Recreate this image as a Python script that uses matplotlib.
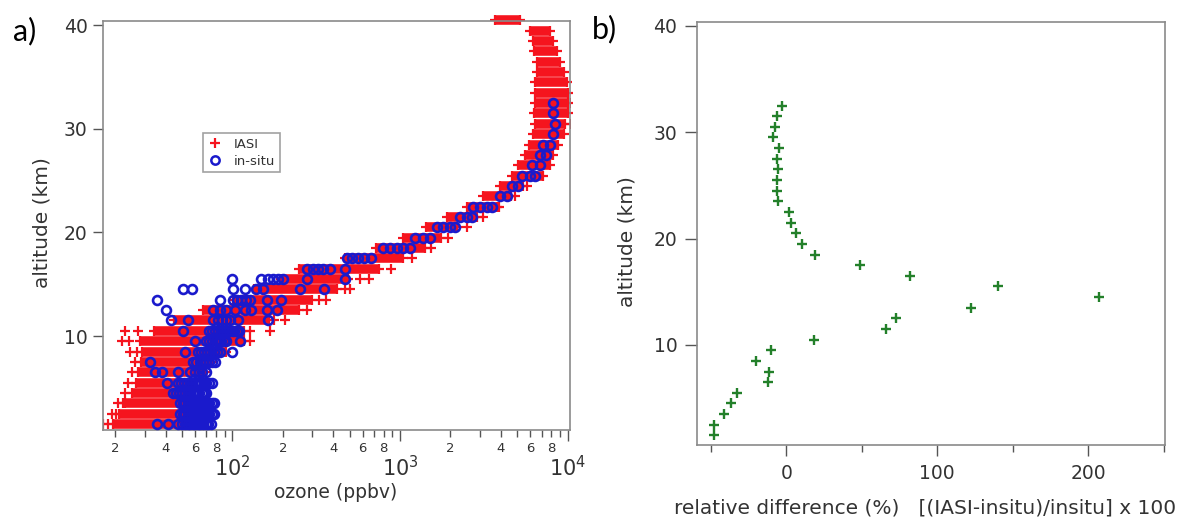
import numpy as np
import matplotlib
matplotlib.use("Agg")
import matplotlib.pyplot as plt
from matplotlib.ticker import FixedLocator, FuncFormatter
from matplotlib.lines import Line2D

# ---- IASI ozone retrievals (ppbv): dense band of profiles per level ----
iasi_km = [1.5, 2.5, 3.5, 4.5, 5.5, 6.5, 7.5, 8.5, 9.5, 10.5,
           11.5, 12.5, 13.5, 14.5, 15.5, 16.5, 17.5, 18.5, 19.5, 20.5,
           21.5, 22.5, 23.5, 24.5, 25.5, 26.5, 27.5, 28.5, 29.5, 30.5,
           31.5, 32.5, 33.5, 34.5, 35.5, 36.5, 37.5, 38.5, 39.5, 40.5]
iasi_lo = [19.5, 21, 23, 25, 26.5, 27.5, 28.5, 29, 28, 34,
           45, 67, 101, 135, 195, 250, 470, 720, 1050, 1440,
           1900, 2500, 3140, 3950, 4640, 5080, 5570, 5920, 6200, 6400,
           6340, 6400, 6400, 6400, 6550, 6550, 6340, 6200, 5970, 3680]
iasi_hi = [55, 55, 55, 55, 58, 70, 77, 92, 118, 118,
           165, 250, 300, 420, 490, 750, 1040, 1420, 1770, 2180,
           2870, 3780, 4600, 5450, 7160, 7870, 8220, 8810, 9530, 9600,
           10100, 10100, 10100, 9890, 9530, 9020, 8610, 8220, 7870, 5210]

# isolated IASI profiles outside the main band
iasi_out_km = [1.5, 1.5, 2.5, 2.5, 3.5, 3.5, 4.5, 5.5, 6.5, 7.5,
               8.5, 8.5, 9.5, 9.5, 9.5, 10.5, 10.5, 10.5, 10.5, 11.5,
               11.5, 12.5, 13.5, 13.5, 14.5, 14.5, 15.5, 15.5, 16.5, 17.5,
               18.5, 19.5, 20.5, 21.5, 22.5, 23.5, 24.5, 30.5, 32.5]
iasi_out_ppbv = [16.8, 18.2, 19.0, 20.3, 20.8, 22.2, 22.8, 23.9, 25.0, 26.2,
                 24.4, 26.8, 21.8, 24.0, 127, 22.8, 27.4, 127, 167, 178,
                 206, 280, 330, 360, 470, 500, 575, 655, 880, 1175,
                 1530, 1945, 2500, 3140, 3900, 4880, 5700, 10500, 10500]

# ---- in-situ ozonesonde (ppbv) ----
insitu_km = [1.5, 2.5, 3.5, 4.5, 5.5, 6.5, 7.5, 8.5, 9.5, 10.5,
             11.5, 12.5, 13.5, 14.5, 15.5, 16.5, 17.5, 18.5, 19.5, 20.5,
             21.5, 22.5, 23.5, 24.5, 25.5, 26.5, 27.5, 28.5, 29.5, 30.5,
             31.5, 32.5]
insitu_ppbv = [
    [35.3, 41.4, 47.5, 50, 52, 54, 56, 58, 60, 62, 64.5, 67, 69.5, 72, 74.5],
    [48.5, 50.5, 52.5, 54.5, 56.5, 58.5, 60.5, 63, 65.5, 68, 70.5, 73, 75.5, 78],
    [48.5, 50.5, 52.5, 54.5, 56.5, 58.5, 60.5, 63, 65.5, 68, 70.5, 73, 75.5, 78],
    [44.3, 46, 48, 50, 52, 54, 56, 58, 60.5, 63, 65.5, 68, 70],
    [40.5, 47.5, 49.5, 51.5, 53.5, 55.5, 57.5, 60, 62.5, 65, 67.5, 70, 73, 76],
    [34.4, 37.8, 47.5, 55.7, 60, 63, 66, 70],
    [32.1, 58.4, 61, 64, 67, 70, 73, 76, 78.8],
    [52, 62.5, 65, 68, 71, 74, 78, 81, 84, 100],
    [59.7, 70, 73, 76, 80, 83, 86, 89, 92, 111],
    [50.5, 73, 76, 79, 82, 85, 88, 92, 95, 99, 102, 106, 110],
    [42.8, 54.5, 77, 82, 87, 92, 97, 108, 164],
    [39.9, 76.8, 84, 92, 103, 119, 130, 160, 184],
    [35.6, 84, 101, 107, 113, 120, 127, 160, 195],
    [50.8, 57.8, 101, 119, 139, 153, 253, 352],
    [100, 148, 164, 175, 188, 201, 277, 470],
    [277, 304, 325, 348, 382, 470],
    [481, 520, 560, 610, 670],
    [795, 870, 955, 1045, 1150],
    [1230, 1380, 1510],
    [1655, 1815, 1990, 2130],
    [2280, 2500, 2680],
    [2740, 3000, 3300, 3530],
    [3950, 4340],
    [4640, 5080],
    [5330, 5970, 6400],
    [6100, 6840],
    [6840, 7480],
    [7160, 7870],
    [8220],
    [8400],
    [8220],
    [8220],
]

# ---- relative difference (%) [(IASI-insitu)/insitu] x 100 ----
rel_km = insitu_km
rel_diff = [-47.7, -47.7, -41.5, -36.4, -32.7, -12.1, -11.6, -19.8, -10.3, 18.3,
            66.3, 72.4, 122.6, 206.8, 140.5, 81.7, 49.0, 19.1, 10.3, 6.5,
            2.8, 1.8, -5.3, -6.5, -6.0, -5.5, -6.0, -4.8, -9.0, -7.8,
            -6.0, -3.0]

RED = "#f5141e"
BLUE = "#1a1acc"
GREEN = "#23802a"
SPINE = "#8a8a8a"
TXT = "#333333"

plt.rcParams["font.family"] = "DejaVu Sans"

fig = plt.figure(figsize=(11.95, 5.19), dpi=100)
ax1 = fig.add_axes([0.0862, 0.1715, 0.3908, 0.7886])
ax2 = fig.add_axes([0.5831, 0.1426, 0.3915, 0.8156])

# panel a) ozone profiles
ax1.hlines(iasi_km, iasi_lo, iasi_hi, colors=RED, lw=6.9, capstyle="butt", zorder=2,
           clip_on=False)
ax1.plot(iasi_lo + iasi_hi, iasi_km + iasi_km, "+", color=RED, ms=7.4, mew=1.6, zorder=2,
         clip_on=False)
ax1.plot(iasi_out_ppbv, iasi_out_km, "+", color=RED, ms=7.4, mew=1.6, zorder=2)
for km, vals in zip(insitu_km, insitu_ppbv):
    ax1.plot(vals, [km] * len(vals), "o", mfc="none", mec=BLUE, ms=6.4, mew=1.9, zorder=3)

ax1.set_xscale("log")
ax1.set_xlim(16.9, 10350)
ax1.set_ylim(0.92, 40.46)
ax1.xaxis.set_major_locator(FixedLocator([100, 1000, 10000]))
ax1.xaxis.set_major_formatter(FuncFormatter(lambda v, p: r"$10^{%d}$" % round(np.log10(v))))
minor_vals = [m * 10 ** e for e in (1, 2, 3) for m in range(2, 10)]
ax1.xaxis.set_minor_locator(FixedLocator(minor_vals))


def minor_label(v, pos):
    m = int(round(v / 10 ** np.floor(np.log10(v) + 1e-9)))
    return str(m) if m in (2, 4, 6, 8) else ""


ax1.xaxis.set_minor_formatter(FuncFormatter(minor_label))
ax1.tick_params(axis="x", which="major", length=8, pad=10, labelsize=15)
ax1.tick_params(axis="x", which="minor", length=5, pad=4, labelsize=9.5)
ax1.set_yticks([10, 20, 30, 40])
ax1.tick_params(axis="y", length=7, pad=4, labelsize=13.5)

handles = [Line2D([], [], ls="none", marker="+", color=RED, ms=7.4, mew=1.6),
           Line2D([], [], ls="none", marker="o", mfc="none", mec=BLUE, ms=6, mew=1.8)]
leg = ax1.legend(handles, ["IASI", "in-situ"], loc="upper left",
                 bbox_to_anchor=(0.214, 0.7256), borderaxespad=0, fontsize=9.5,
                 fancybox=False, handlelength=1.2, handletextpad=0.8,
                 borderpad=0.35, labelspacing=0.3)
leg.get_frame().set_edgecolor(SPINE)
leg.get_frame().set_linewidth(1.2)
for t in leg.get_texts():
    t.set_color(TXT)

# panel b) relative difference
ax2.plot(rel_diff, rel_km, "+", color=GREEN, ms=7.5, mew=1.7)
ax2.set_xlim(-59.3, 250.6)
ax2.set_ylim(0.6, 40.38)
ax2.set_xticks([0, 100, 200])
ax2.set_xticks([-50, 50, 150, 250], minor=True)
ax2.set_yticks([10, 20, 30, 40])
ax2.tick_params(axis="x", which="major", length=8, pad=6, labelsize=13.5)
ax2.tick_params(axis="x", which="minor", length=5)
ax2.tick_params(axis="y", length=9, pad=5, labelsize=13.5)

for ax in (ax1, ax2):
    for s in ax.spines.values():
        s.set_color(SPINE)
        s.set_linewidth(1.2)
    ax.tick_params(which="both", direction="out", color="#555555", labelcolor=TXT, width=1)

fig.text(336 / 1195, 1 - 493 / 519, "ozone (ppbv)", ha="center", va="center", fontsize=13.5, color=TXT)
fig.text(42 / 1195, 1 - 223 / 519, "altitude (km)", ha="center", va="center", rotation=90,
         fontsize=14.5, color=TXT)
fig.text(627 / 1195, 1 - 242 / 519, "altitude (km)", ha="center", va="center", rotation=90,
         fontsize=14.5, color=TXT)
fig.text(925 / 1195, 1 - 508 / 519, "relative difference (%)   [(IASI-insitu)/insitu] x 100",
         ha="center", va="center", fontsize=14.5, color=TXT)

fig.text(25 / 1195, 1 - 31 / 519, "a)", ha="center", va="center", fontsize=22, family="Lato")
fig.text(604 / 1195, 1 - 29 / 519, "b)", ha="center", va="center", fontsize=22, family="Lato")

fig.savefig("out.png", dpi=100)
